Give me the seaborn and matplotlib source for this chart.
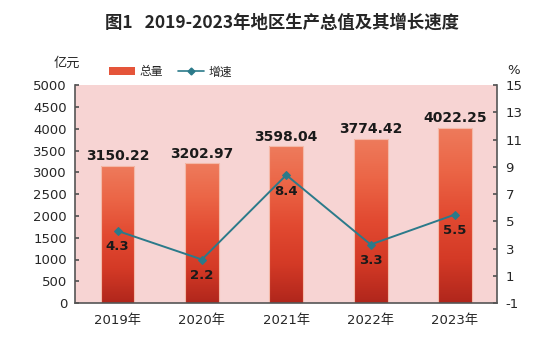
import matplotlib
matplotlib.use("Agg")
import matplotlib.pyplot as plt
import seaborn as sns
import numpy as np
import pandas as pd
from matplotlib.colors import LinearSegmentedColormap
from matplotlib.lines import Line2D
from matplotlib.patches import Patch

years = ["2019年", "2020年", "2021年", "2022年", "2023年"]
gdp = [3150.22, 3202.97, 3598.04, 3774.42, 4022.25]
growth = [4.3, 2.2, 8.4, 3.3, 5.5]
gdp_labels = ["3150.22", "3202.97", "3598.04", "3774.42", "4022.25"]
growth_labels = ["4.3", "2.2", "8.4", "3.3", "5.5"]
left_ticks = list(range(0, 5001, 500))
right_ticks = list(range(-1, 16, 2))

sns.set_theme(style="white")
plt.rcParams['font.family'] = ['DejaVu Sans', 'Noto Sans CJK SC']
plt.rcParams['axes.unicode_minus'] = False

df = pd.DataFrame({"year": years, "gdp": gdp, "growth": growth})

fig = plt.figure(figsize=(5.5, 3.46), dpi=100)
ax = fig.add_axes([0.137, 0.124, 0.767, 0.630])
ax.set_facecolor("#F7D4D3")

sns.barplot(data=df, x="year", y="gdp", ax=ax, width=0.4, color="#E5553A",
            edgecolor="#F4B9A8", linewidth=0.8, zorder=2)

cmap = LinearSegmentedColormap.from_list(
    "g", ["#B0261C", "#D43A26", "#E24A31", "#EB6546", "#EE7B5C"])
grad = np.linspace(0, 1, 256).reshape(-1, 1)
for p in ax.patches:
    x0, y0 = p.get_x(), p.get_y()
    w, h = p.get_width(), p.get_height()
    im = ax.imshow(grad, cmap=cmap, aspect="auto", origin="lower",
                   extent=[x0, x0 + w, y0, y0 + h], zorder=2.1)
    im.set_clip_path(p)
    p.set_facecolor("none")
    p.set_zorder(2.2)

for i, (v, lab) in enumerate(zip(gdp, gdp_labels)):
    ax.text(i, v + 60, lab, ha="center", va="bottom", fontsize=10,
            fontweight="bold", color="#1a1a1a", zorder=5)

ax.set_xlim(-0.5, 4.5)
ax.set_ylim(0, 5000)
ax.set_yticks(left_ticks)
ax.set_yticklabels([str(t) for t in left_ticks], fontsize=9.5)
ax.set_xticks(range(len(years)))
ax.set_xticklabels(years, fontsize=9.5, family=['DejaVu Sans', 'Noto Sans CJK SC'])
ax.set_xlabel("")
ax.set_ylabel("")
ax.tick_params(axis="x", length=0, pad=8)
ax.set_xticks([0.5, 1.5, 2.5, 3.5], minor=True)
ax.tick_params(axis="x", which="minor", direction="in", length=4, color="#555555")
ax.tick_params(axis="y", direction="in", length=3, color="#555555", pad=6)

for s in ["left", "bottom"]:
    ax.spines[s].set_color("#555555")
    ax.spines[s].set_linewidth(1.2)
ax.spines["top"].set_visible(False)
ax.spines["right"].set_visible(False)

ax2 = ax.twinx()
sns.lineplot(x=list(range(len(years))), y=growth, ax=ax2, color="#2B7A8A",
             marker="D", markersize=4, linewidth=1.4, markeredgecolor="#2B7A8A",
             zorder=4)
ax2.set_ylim(-1, 15)
ax2.set_yticks(right_ticks)
ax2.set_yticklabels([str(t) for t in right_ticks], fontsize=9.5)
ax2.tick_params(axis="y", direction="in", length=3, color="#555555", pad=6)
ax2.spines["right"].set_color("#555555")
ax2.spines["right"].set_linewidth(1.2)
for s in ["top", "left", "bottom"]:
    ax2.spines[s].set_visible(False)
ax2.grid(False)
ax2.set_ylabel("")

for i, (v, lab) in enumerate(zip(growth, growth_labels)):
    ax2.text(i, v - 0.7, lab, ha="center", va="top", fontsize=9.5,
             fontweight="bold", color="#1a1a1a", zorder=5)

fig.text(0.512, 0.935, "图1   2019-2023年地区生产总值及其增长速度", ha="center",
         va="center", fontsize=12.5, fontweight="bold",
         family=['Noto Sans CJK SC', 'DejaVu Sans'])
fig.text(0.122, 0.818, "亿元", ha="center", va="center", fontsize=9.5,
         family=['Noto Sans CJK SC', 'DejaVu Sans'])
fig.text(0.933, 0.797, "%", ha="center", va="center", fontsize=9.5)

handles = [Patch(facecolor="#E5553A", edgecolor="none"),
           Line2D([0], [0], color="#2B7A8A", marker="D", markersize=3.5, linewidth=1.2)]
fig.legend(handles, ["总量", "增速"], loc="center", bbox_to_anchor=(0.31, 0.792),
           ncol=2, frameon=False, handlelength=2.2, handleheight=0.7,
           columnspacing=1.2, handletextpad=0.4,
           prop={'family': ['Noto Sans CJK SC', 'DejaVu Sans'], 'size': 8.5})

fig.savefig("out.png", dpi=100, facecolor="white")
